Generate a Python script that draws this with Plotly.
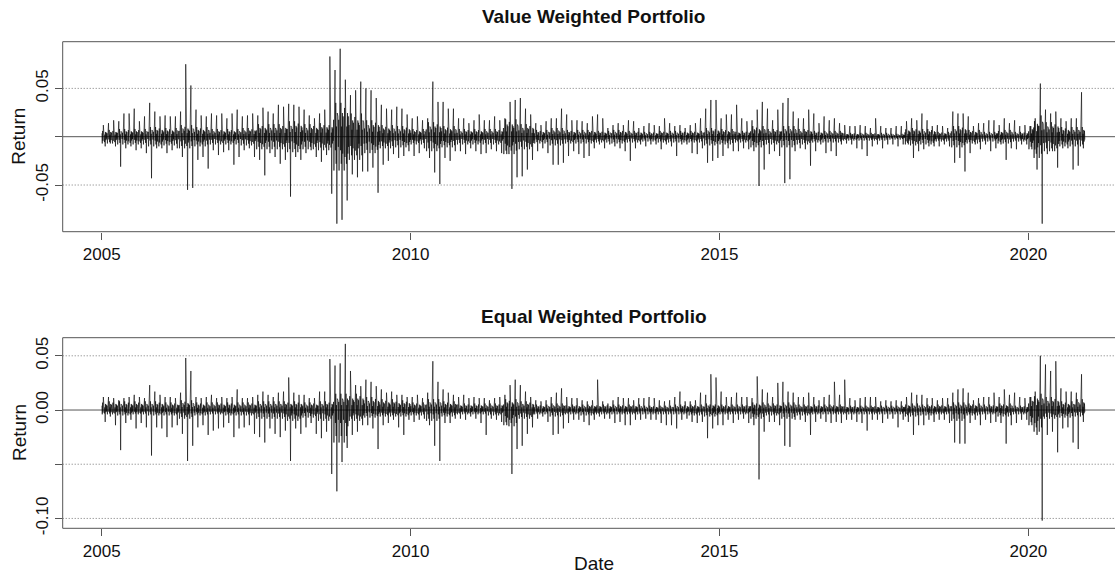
import plotly.graph_objects as go

# ---------------- data (monthly extremes, Jan 2005 .. Nov 2020) -------------
start_year = 2005
x_ticks = [2005, 2010, 2015, 2020]
x_tick_labels = ["2005", "2010", "2015", "2020"]

vw_hi = [0.012,0.014,0.017,0.016,0.024,0.024,0.029,0.016,0.021,0.035,0.026,0.021,
         0.022,0.021,0.021,0.026,0.075,0.053,0.028,0.022,0.021,0.024,0.022,0.024,
         0.019,0.024,0.028,0.021,0.022,0.024,0.022,0.030,0.026,0.024,0.033,0.031,
         0.034,0.033,0.031,0.028,0.022,0.019,0.024,0.028,0.083,0.069,0.091,0.059,
         0.043,0.048,0.057,0.050,0.048,0.040,0.033,0.029,0.028,0.031,0.029,0.023,
         0.019,0.021,0.017,0.019,0.057,0.036,0.036,0.029,0.029,0.019,0.019,0.014,
         0.017,0.023,0.017,0.017,0.021,0.017,0.019,0.036,0.038,0.040,0.029,0.023,
         0.014,0.012,0.016,0.019,0.019,0.029,0.023,0.017,0.017,0.016,0.014,0.021,
         0.023,0.019,0.009,0.012,0.014,0.012,0.017,0.016,0.009,0.011,0.014,0.012,
         0.011,0.019,0.014,0.011,0.012,0.009,0.012,0.014,0.019,0.029,0.038,0.038,
         0.019,0.023,0.023,0.033,0.019,0.016,0.017,0.028,0.036,0.029,0.017,0.028,
         0.035,0.040,0.026,0.019,0.019,0.028,0.024,0.014,0.021,0.017,0.019,0.014,
         0.012,0.011,0.011,0.012,0.011,0.009,0.019,0.011,0.009,0.009,0.011,0.011,
         0.016,0.019,0.017,0.024,0.017,0.011,0.012,0.011,0.009,0.026,0.024,0.024,
         0.021,0.011,0.014,0.014,0.017,0.017,0.012,0.019,0.014,0.017,0.011,0.012,
         0.011,0.019,0.055,0.028,0.024,0.026,0.019,0.016,0.019,0.019,0.046]
vw_lo = [-0.010,-0.007,-0.010,-0.031,-0.012,-0.010,-0.014,-0.012,-0.017,-0.043,-0.012,-0.012,
         -0.017,-0.014,-0.012,-0.021,-0.055,-0.053,-0.024,-0.021,-0.033,-0.014,-0.019,-0.016,
         -0.014,-0.029,-0.021,-0.014,-0.012,-0.021,-0.024,-0.040,-0.017,-0.021,-0.028,-0.024,
         -0.062,-0.021,-0.024,-0.017,-0.014,-0.021,-0.026,-0.019,-0.059,-0.090,-0.086,-0.066,
         -0.039,-0.042,-0.036,-0.036,-0.032,-0.058,-0.029,-0.025,-0.018,-0.022,-0.020,-0.015,
         -0.020,-0.017,-0.012,-0.022,-0.037,-0.049,-0.022,-0.025,-0.015,-0.015,-0.018,-0.012,
         -0.015,-0.018,-0.017,-0.013,-0.015,-0.017,-0.018,-0.054,-0.042,-0.041,-0.034,-0.024,
         -0.015,-0.012,-0.017,-0.029,-0.029,-0.027,-0.020,-0.015,-0.018,-0.022,-0.020,-0.012,
         -0.008,-0.012,-0.008,-0.010,-0.012,-0.015,-0.025,-0.012,-0.008,-0.010,-0.008,-0.008,
         -0.013,-0.008,-0.010,-0.020,-0.008,-0.008,-0.017,-0.018,-0.012,-0.027,-0.025,-0.022,
         -0.020,-0.012,-0.015,-0.015,-0.012,-0.013,-0.015,-0.051,-0.034,-0.018,-0.015,-0.020,
         -0.048,-0.044,-0.015,-0.012,-0.013,-0.030,-0.015,-0.008,-0.017,-0.015,-0.020,-0.008,
         -0.007,-0.008,-0.012,-0.013,-0.020,-0.010,-0.008,-0.012,-0.008,-0.008,-0.010,-0.008,
         -0.008,-0.022,-0.015,-0.013,-0.010,-0.010,-0.010,-0.008,-0.010,-0.027,-0.022,-0.036,
         -0.017,-0.008,-0.013,-0.008,-0.015,-0.012,-0.008,-0.024,-0.012,-0.013,-0.008,-0.008,
         -0.013,-0.034,-0.090,-0.018,-0.015,-0.032,-0.012,-0.012,-0.034,-0.030,-0.012]
# half-width of the dense central band, per quarter (2005Q1 .. 2020Q4)
vw_core = [0.007,0.008,0.008,0.010, 0.009,0.012,0.010,0.008, 0.008,0.009,0.013,0.013,
           0.016,0.013,0.014,0.035, 0.024,0.017,0.012,0.011, 0.008,0.015,0.011,0.008,
           0.008,0.008,0.018,0.013, 0.007,0.009,0.007,0.007, 0.006,0.007,0.006,0.005,
           0.006,0.006,0.006,0.009, 0.008,0.006,0.011,0.008, 0.011,0.008,0.006,0.006,
           0.004,0.004,0.004,0.003, 0.009,0.008,0.005,0.011, 0.007,0.005,0.007,0.005,
           0.022,0.015,0.010,0.010]

ew_hi = [0.012,0.012,0.011,0.009,0.011,0.012,0.014,0.012,0.011,0.023,0.017,0.014,
         0.012,0.012,0.011,0.016,0.048,0.036,0.012,0.011,0.012,0.014,0.011,0.012,
         0.011,0.012,0.019,0.011,0.011,0.012,0.014,0.017,0.014,0.012,0.016,0.017,
         0.030,0.016,0.014,0.014,0.011,0.011,0.017,0.017,0.047,0.041,0.043,0.061,
         0.036,0.023,0.022,0.028,0.026,0.022,0.019,0.016,0.017,0.014,0.014,0.012,
         0.012,0.014,0.011,0.016,0.045,0.026,0.019,0.016,0.014,0.012,0.014,0.011,
         0.012,0.011,0.011,0.009,0.011,0.012,0.014,0.023,0.028,0.023,0.017,0.012,
         0.009,0.008,0.009,0.012,0.016,0.020,0.012,0.011,0.011,0.009,0.008,0.009,
         0.028,0.008,0.006,0.009,0.012,0.011,0.011,0.009,0.011,0.011,0.012,0.011,
         0.009,0.008,0.009,0.012,0.017,0.008,0.008,0.009,0.016,0.014,0.033,0.030,
         0.017,0.012,0.012,0.016,0.012,0.012,0.011,0.031,0.019,0.016,0.012,0.025,
         0.026,0.017,0.016,0.012,0.012,0.016,0.012,0.009,0.012,0.014,0.026,0.014,
         0.028,0.011,0.009,0.011,0.012,0.012,0.012,0.008,0.009,0.008,0.009,0.008,
         0.012,0.016,0.014,0.014,0.011,0.011,0.009,0.011,0.011,0.016,0.019,0.020,
         0.016,0.009,0.011,0.012,0.012,0.016,0.012,0.019,0.014,0.016,0.012,0.011,
         0.012,0.017,0.050,0.042,0.036,0.045,0.020,0.017,0.017,0.016,0.033]
ew_lo = [-0.011,-0.006,-0.014,-0.037,-0.012,-0.009,-0.017,-0.012,-0.016,-0.042,-0.016,-0.017,
         -0.025,-0.016,-0.014,-0.022,-0.047,-0.033,-0.016,-0.014,-0.023,-0.019,-0.017,-0.016,
         -0.012,-0.025,-0.017,-0.016,-0.014,-0.022,-0.025,-0.030,-0.017,-0.022,-0.025,-0.019,
         -0.047,-0.017,-0.022,-0.016,-0.012,-0.022,-0.026,-0.020,-0.059,-0.075,-0.048,-0.035,
         -0.023,-0.020,-0.014,-0.014,-0.017,-0.036,-0.014,-0.012,-0.009,-0.016,-0.023,-0.009,
         -0.011,-0.009,-0.008,-0.014,-0.033,-0.047,-0.012,-0.012,-0.008,-0.008,-0.009,-0.006,
         -0.008,-0.012,-0.023,-0.008,-0.009,-0.011,-0.014,-0.059,-0.036,-0.033,-0.022,-0.016,
         -0.008,-0.006,-0.011,-0.023,-0.022,-0.017,-0.012,-0.009,-0.009,-0.011,-0.014,-0.009,
         -0.006,-0.008,-0.008,-0.012,-0.011,-0.014,-0.014,-0.009,-0.009,-0.008,-0.009,-0.009,
         -0.012,-0.014,-0.014,-0.017,-0.009,-0.008,-0.011,-0.012,-0.011,-0.026,-0.017,-0.014,
         -0.014,-0.009,-0.012,-0.009,-0.008,-0.012,-0.014,-0.064,-0.020,-0.011,-0.011,-0.014,
         -0.033,-0.034,-0.009,-0.009,-0.011,-0.023,-0.011,-0.008,-0.011,-0.012,-0.011,-0.012,
         -0.009,-0.009,-0.011,-0.012,-0.019,-0.009,-0.009,-0.012,-0.008,-0.008,-0.016,-0.009,
         -0.011,-0.023,-0.014,-0.014,-0.009,-0.011,-0.009,-0.009,-0.012,-0.030,-0.031,-0.031,
         -0.012,-0.009,-0.014,-0.009,-0.012,-0.011,-0.012,-0.031,-0.014,-0.012,-0.009,-0.009,
         -0.014,-0.023,-0.102,-0.023,-0.020,-0.039,-0.017,-0.016,-0.030,-0.036,-0.011]
# upper / lower edge of the dense central band, per quarter
ew_core_up = [0.008,0.008,0.008,0.008, 0.007,0.009,0.007,0.007, 0.007,0.007,0.008,0.008,
              0.008,0.007,0.008,0.015, 0.015,0.012,0.010,0.009, 0.007,0.010,0.008,0.006,
              0.006,0.006,0.010,0.008, 0.005,0.006,0.005,0.005, 0.005,0.005,0.005,0.004,
              0.004,0.005,0.005,0.006, 0.005,0.005,0.007,0.006, 0.007,0.005,0.005,0.005,
              0.004,0.004,0.004,0.004, 0.006,0.005,0.005,0.007, 0.006,0.005,0.006,0.004,
              0.015,0.012,0.008,0.010]
ew_core_dn = [-0.004,-0.005,-0.004,-0.005, -0.005,-0.008,-0.005,-0.004, -0.005,-0.005,-0.008,-0.008,
              -0.010,-0.007,-0.010,-0.030, -0.010,-0.007,-0.006,-0.006, -0.005,-0.010,-0.006,-0.004,
              -0.004,-0.005,-0.015,-0.008, -0.004,-0.006,-0.004,-0.005, -0.004,-0.004,-0.004,-0.004,
              -0.004,-0.004,-0.005,-0.006, -0.004,-0.004,-0.008,-0.005, -0.008,-0.005,-0.004,-0.004,
              -0.004,-0.004,-0.004,-0.004, -0.006,-0.005,-0.004,-0.010, -0.005,-0.004,-0.006,-0.004,
              -0.020,-0.008,-0.007,-0.006]

vw_yticks = [-0.05, 0.0, 0.05]
vw_ytick_labels = ["-0.05", "", "0.05"]
ew_yticks = [-0.10, -0.05, 0.0, 0.05]
ew_ytick_labels = ["-0.10", "", "0.00", "0.05"]

# order in which one month is traced: ("u"/"d", share of band edge) or the month's extremes
PATTERN = [("u", 0.5), ("d", 1.0), ("u", 0.85), ("d", 0.6), ("hi", 1), ("d", 0.4), ("u", 1.0),
           ("d", 0.8), ("u", 0.3), ("lo", 1), ("u", 0.7), ("d", 0.5), ("u", 0.6), ("d", 0.3)]


def build(hi, lo, cu_q, cd_q):
    xs, ys = [], []
    n = len(PATTERN)
    for m in range(len(hi)):
        q = m // 3
        cu = min(cu_q[q], hi[m])
        cd = max(cd_q[q], lo[m])
        for k, (kind, s) in enumerate(PATTERN):
            if kind == "hi":
                v = hi[m]
            elif kind == "lo":
                v = lo[m]
            elif kind == "u":
                v = cu * s
            else:
                v = cd * s
            xs.append(start_year + (m + (k + 0.5) / n) / 12.0)
            ys.append(v)
    return xs, ys


W, H = 1115, 576
FONT = "Liberation Sans, Arial, sans-serif"
x_left = 62.7
x_range = [2005 - (101.7 - x_left) / 61.78, 2005 + (W - 101.7) / 61.78]
xdom = [x_left / W, 1.0]
top_dom = [1 - 231.7 / H, 1 - 41.7 / H]
bot_dom = [1 - 528.3 / H, 1 - 337.7 / H]

fig = go.Figure()
vx, vy = build(vw_hi, vw_lo, vw_core, [-c for c in vw_core])
ex, ey = build(ew_hi, ew_lo, ew_core_up, ew_core_dn)
LINE = dict(color="rgba(0,0,0,0.88)", width=0.7)
fig.add_trace(go.Scatter(x=vx, y=vy, mode="lines", line=LINE,
                         xaxis="x", yaxis="y", showlegend=False, hoverinfo="skip"))
fig.add_trace(go.Scatter(x=ex, y=ey, mode="lines", line=LINE,
                         xaxis="x2", yaxis="y2", showlegend=False, hoverinfo="skip"))

axis_common = dict(showgrid=False, zeroline=False, showline=False,
                   ticks="outside", ticklen=7, tickcolor="#555", tickwidth=1,
                   automargin=False,
                   tickfont=dict(family=FONT, size=17, color="#111"))
fig.update_layout(
    width=W, height=H, margin=dict(l=0, r=0, t=0, b=0, pad=0, autoexpand=False),
    paper_bgcolor="white", plot_bgcolor="white",
    xaxis=dict(domain=xdom, range=x_range, tickvals=x_ticks, ticktext=x_tick_labels,
               anchor="y", **axis_common),
    yaxis=dict(domain=top_dom, range=[-0.0983, 0.0983], tickvals=vw_yticks,
               ticktext=vw_ytick_labels, tickangle=-90, anchor="x", **axis_common),
    xaxis2=dict(domain=xdom, range=x_range, tickvals=x_ticks, ticktext=x_tick_labels,
                anchor="y2", **axis_common),
    yaxis2=dict(domain=bot_dom, range=[-0.1091, 0.0667], tickvals=ew_yticks,
                ticktext=ew_ytick_labels, tickangle=-90, anchor="x2", **axis_common),
)

DOT = dict(color="#777", width=1, dash="1px,2px")
FRAME = dict(color="#555", width=1)
shapes = []
for v in [0.05, -0.05]:
    shapes.append(dict(type="line", xref="x domain", yref="y", x0=0, x1=1, y0=v, y1=v,
                       line=DOT, layer="below"))
shapes.append(dict(type="line", xref="x domain", yref="y", x0=0, x1=1, y0=0, y1=0,
                   line=dict(color="#555", width=1), layer="below"))
for v in [0.05, -0.05, -0.10]:
    shapes.append(dict(type="line", xref="x2 domain", yref="y2", x0=0, x1=1, y0=v, y1=v,
                       line=DOT, layer="below"))
shapes.append(dict(type="line", xref="x2 domain", yref="y2", x0=0, x1=1, y0=0, y1=0,
                   line=dict(color="#555", width=1), layer="below"))
# plot frame (the right side lies beyond the picture)
for dom in (top_dom, bot_dom):
    shapes.append(dict(type="line", xref="paper", yref="paper", x0=xdom[0], x1=1.0,
                       y0=dom[0], y1=dom[0], line=FRAME))
    shapes.append(dict(type="line", xref="paper", yref="paper", x0=xdom[0], x1=1.0,
                       y0=dom[1], y1=dom[1], line=FRAME))
    shapes.append(dict(type="line", xref="paper", yref="paper", x0=xdom[0], x1=xdom[0],
                       y0=dom[0], y1=dom[1], line=FRAME))
fig.update_layout(shapes=shapes)

cx = 593.6 / W
ann = [
    dict(text="<b>Value Weighted Portfolio</b>", x=cx, y=1 - 17 / H, size=19, angle=0),
    dict(text="<b>Equal Weighted Portfolio</b>", x=cx, y=1 - 316 / H, size=19, angle=0),
    dict(text="Date", x=cx, y=1 - 563 / H, size=19, angle=0),
    dict(text="Return", x=19 / W, y=1 - 136.7 / H, size=19, angle=-90),
    dict(text="Return", x=19 / W, y=1 - 433 / H, size=19, angle=-90),
]
for a in ann:
    fig.add_annotation(text=a["text"], x=a["x"], y=a["y"], xref="paper", yref="paper",
                       xanchor="center", yanchor="middle", showarrow=False,
                       textangle=a["angle"], font=dict(family=FONT, size=a["size"], color="#111"))

fig.write_html("out.html", config={"displayModeBar": False},
               post_script="document.body.style.margin='0px';document.body.style.overflow='hidden';")
